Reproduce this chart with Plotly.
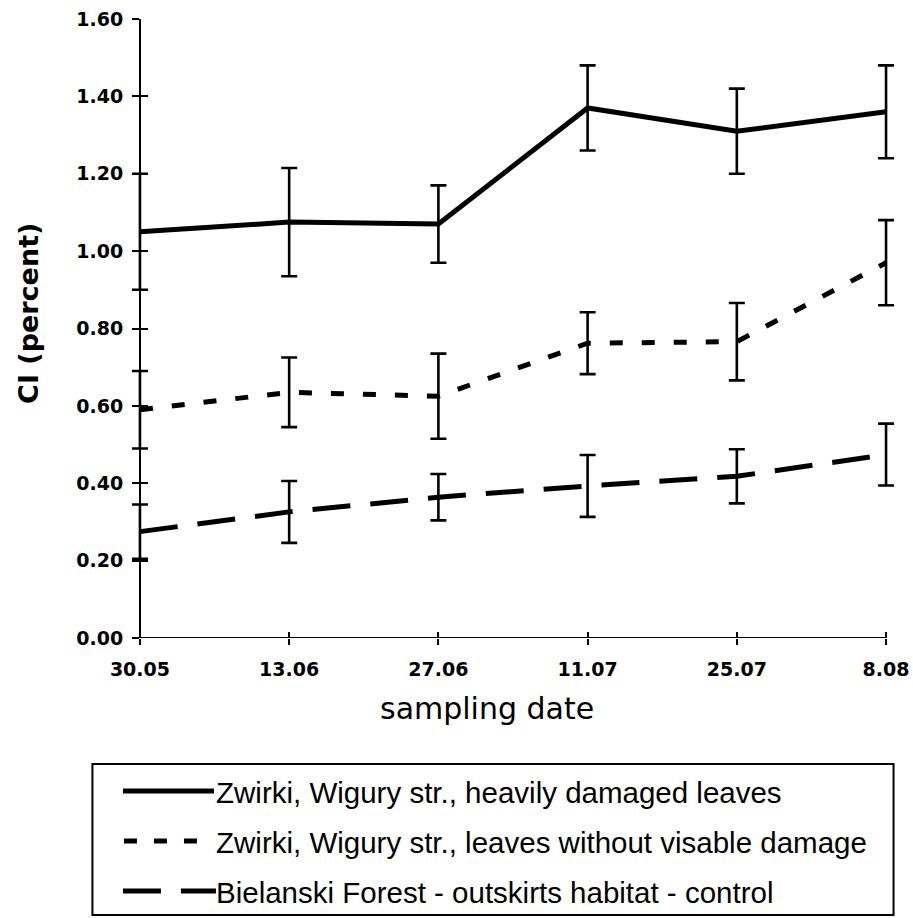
import plotly.graph_objects as go

# ---- data ----
dates = ["30.05", "13.06", "27.06", "11.07", "25.07", "8.08"]

heavy = [1.05, 1.075, 1.07, 1.37, 1.31, 1.36]
heavy_err = [0.15, 0.14, 0.10, 0.11, 0.11, 0.12]

nodamage = [0.59, 0.635, 0.625, 0.762, 0.766, 0.97]
nodamage_err = [0.10, 0.09, 0.11, 0.08, 0.10, 0.11]

control = [0.275, 0.326, 0.364, 0.393, 0.418, 0.474]
control_err = [0.07, 0.08, 0.06, 0.08, 0.07, 0.08]

yticks = [0.0, 0.2, 0.4, 0.6, 0.8, 1.0, 1.2, 1.4, 1.6]

names = [
    "Zwirki, Wigury str., heavily damaged leaves",
    "Zwirki, Wigury str., leaves without visable damage",
    "Bielanski Forest - outskirts habitat - control",
]
dashes = ["solid", "13px,19px", "38px,20px"]

# ---- layout geometry (pixels) ----
W, H = 913, 918
AX_LEFT, AX_RIGHT = 140, 886        # pixel of first / last category
T, B = 19, 280
PAD = 0.06                           # extra category room so error caps are not clipped
step = (AX_RIGHT - AX_LEFT) / (len(dates) - 1)
L = AX_LEFT - PAD * step
R = W - (AX_RIGHT + PAD * step)
PW, PH = W - L - R, H - T - B
xrange_ = [-PAD, len(dates) - 1 + PAD]
ypos = (AX_LEFT - L) / PW


def px(x):
    return (x - L) / PW


def py(y):
    return (H - B - y) / PH


fig = go.Figure()

series = [(heavy, heavy_err), (nodamage, nodamage_err), (control, control_err)]
for (vals, errs), name, dash in zip(series, names, dashes):
    fig.add_trace(go.Scatter(
        x=dates, y=vals, mode="lines", name=name,
        line=dict(color="black", width=5, dash=dash),
        error_y=dict(type="data", array=errs, visible=True, color="black",
                     thickness=2.6, width=8),
        cliponaxis=False, showlegend=False,
    ))

# empty helper trace so the overlay axes (inside tick marks) render
fig.add_trace(go.Scatter(x=[None], y=[None], xaxis="x2", yaxis="y2",
                         showlegend=False, hoverinfo="skip"))

tickfont = dict(family="DejaVu Sans", size=19, color="black", weight="bold")

fig.update_layout(
    width=W, height=H,
    margin=dict(l=L, r=R, t=T, b=B, autoexpand=False),
    paper_bgcolor="white", plot_bgcolor="white",
    showlegend=False,
    xaxis=dict(
        type="category", categoryorder="array", categoryarray=dates,
        range=xrange_, showgrid=False, zeroline=False, showline=False,
        ticks="outside", ticklen=6, tickwidth=1.6, tickcolor="black",
        tickfont=tickfont, ticklabelstandoff=8, automargin=False,
    ),
    yaxis=dict(
        range=[0, 1.6], tickvals=yticks, tickformat=".2f",
        anchor="free", position=ypos,
        showgrid=False, zeroline=False,
        showline=True, linecolor="black", linewidth=2,
        ticks="outside", ticklen=7, tickwidth=1.6, tickcolor="black",
        tickfont=tickfont, ticklabelstandoff=5, automargin=False,
    ),
    xaxis2=dict(
        overlaying="x", anchor="y2", side="bottom", range=xrange_,
        tickvals=list(range(len(dates))), showticklabels=False,
        ticks="inside", ticklen=6, tickwidth=1.6, tickcolor="black",
        showgrid=False, zeroline=False, showline=False, automargin=False,
    ),
    yaxis2=dict(
        overlaying="y", anchor="free", position=ypos, side="left",
        range=[0, 1.6], tickvals=yticks, showticklabels=False,
        ticks="inside", ticklen=7, tickwidth=1.6, tickcolor="black",
        showgrid=False, zeroline=False, showline=False, automargin=False,
    ),
)

annotations = [
    dict(text="CI (percent)", x=px(28), y=py(313), xref="paper", yref="paper",
         textangle=-90, showarrow=False, xanchor="center", yanchor="middle",
         font=dict(family="DejaVu Sans", size=27, color="black", weight="bold")),
    dict(text="sampling date", x=px(487), y=py(708), xref="paper", yref="paper",
         showarrow=False, xanchor="center", yanchor="middle",
         font=dict(family="DejaVu Sans", size=30, color="black")),
]

shapes = [
    # x axis line from the first to the last sampling date, at y = 0
    dict(type="line", xref="x", yref="y", x0=0, x1=len(dates) - 1,
         y0=yticks[0], y1=yticks[0], line=dict(color="black", width=2),
         layer="above"),
    # legend frame
    dict(type="rect", xref="paper", yref="paper",
         x0=px(92.5), x1=px(893.5), y0=py(764), y1=py(915),
         line=dict(color="black", width=2), fillcolor="rgba(0,0,0,0)"),
]
rows_y = [791, 841, 891]
sample_x = [(123, 214), (124, 197), (123, 216)]
legend_dash = ["solid", "13px,17px", "38px,20px"]
for name, yy, (xa, xb), dsh in zip(names, rows_y, sample_x, legend_dash):
    shapes.append(dict(type="line", xref="paper", yref="paper",
                       x0=px(xa), x1=px(xb), y0=py(yy), y1=py(yy),
                       line=dict(color="black", width=5, dash=dsh)))
    annotations.append(dict(text=name, x=px(214), y=py(yy + 1), xref="paper",
                            yref="paper", showarrow=False, xanchor="left",
                            yanchor="middle",
                            font=dict(family="Liberation Sans", size=29.5,
                                      color="black")))

fig.update_layout(annotations=annotations, shapes=shapes)

fig.write_html(
    "out.html",
    config={"displayModeBar": False},
    post_script="document.body.style.margin='0px';document.body.style.padding='0px';",
)
